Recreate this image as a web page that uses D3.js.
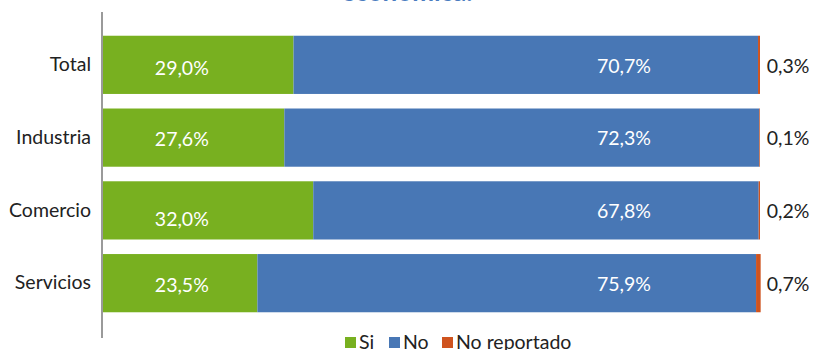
<!DOCTYPE html>
<html>
<head>
<meta charset="utf-8">
<script src="https://cdn.jsdelivr.net/npm/d3@7"></script>
<style>
  body { margin: 0; background: #fff; }
  text { font-family: Lato, "Open Sans", sans-serif; }
</style>
</head>
<body>
<script>
// data
const sectores = ["Total", "Industria", "Comercio", "Servicios"]
const si = [29.0, 27.6, 32.0, 23.5]
const no = [70.7, 72.3, 67.8, 75.9]
const noReportado = [0.3, 0.1, 0.2, 0.7]
const series = ["Si", "No", "No reportado"]
const colores = ["#78b020", "#4877b5", "#cf531e"]

let width = 814, height = 350
let fs = 19.5

let svg = d3.select("body").append("svg")
  .attr("width", width)
  .attr("height", height)

// titulo (cortado arriba)
svg.append("text")
  .attr("x", 407).attr("y", 1)
  .attr("text-anchor", "middle")
  .attr("font-size", 26).attr("font-weight", "bold")
  .attr("fill", "#4a7cc0")
  .text("económica.")

let x = d3.scaleLinear().domain([0, 100]).range([103, 760])
let y = d3.scaleBand().domain(sectores).range([27, 321]).paddingInner(0.2).paddingOuter(0.12)

const filas = sectores.map((s, i) => ({sector: s, vals: [si[i], no[i], noReportado[i]]}))

filas.forEach(f => {
  let acc = 0
  f.vals.forEach((v, k) => {
    svg.append("rect")
      .attr("x", x(acc))
      .attr("y", y(f.sector))
      .attr("width", x(acc + v) - x(acc))
      .attr("height", y.bandwidth())
      .attr("fill", colores[k])
    acc += v
  })
})

const fmt = v => v.toFixed(1).replace(".", ",") + "%"
// las etiquetas de Excel fueron movidas a mano
const dySi = [3, 2, 9, 2]

filas.forEach((f, i) => {
  let cy = y(f.sector) + y.bandwidth() / 2
  svg.append("text").attr("x", x(12)).attr("y", cy + dySi[i])
    .attr("dy", "0.35em").attr("text-anchor", "middle")
    .attr("font-size", fs).attr("fill", "#fff").text(fmt(f.vals[0]))
  svg.append("text").attr("x", x(79.3)).attr("y", cy + 1)
    .attr("dy", "0.35em").attr("text-anchor", "middle")
    .attr("font-size", fs).attr("fill", "#fff").text(fmt(f.vals[1]))
  svg.append("text").attr("x", 788).attr("y", cy + 1)
    .attr("dy", "0.35em").attr("text-anchor", "middle")
    .attr("font-size", fs).attr("fill", "#222").text(fmt(f.vals[2]))
})

// eje vertical
let yAxis = svg.append("g")
  .attr("transform", "translate(102,0)")
  .call(d3.axisLeft(y).tickSize(0).tickPadding(11))
yAxis.select(".domain").remove()
yAxis.selectAll("text").attr("font-size", fs).attr("fill", "#222")
  .style("font-family", "Lato, 'Open Sans', sans-serif")
svg.append("line")
  .attr("x1", 102).attr("x2", 102)
  .attr("y1", 12).attr("y2", 338)
  .attr("stroke", "#9a9a9a").attr("stroke-width", 2)

// leyenda
const legX = [345, 389, 442]
let leg = svg.append("g")
series.forEach((s, k) => {
  leg.append("rect").attr("x", legX[k]).attr("y", 337)
    .attr("width", 11).attr("height", 11).attr("fill", colores[k])
  leg.append("text").attr("x", legX[k] + 14).attr("y", 349)
    .attr("font-size", fs).attr("fill", "#222").text(s)
})
</script>
</body>
</html>
